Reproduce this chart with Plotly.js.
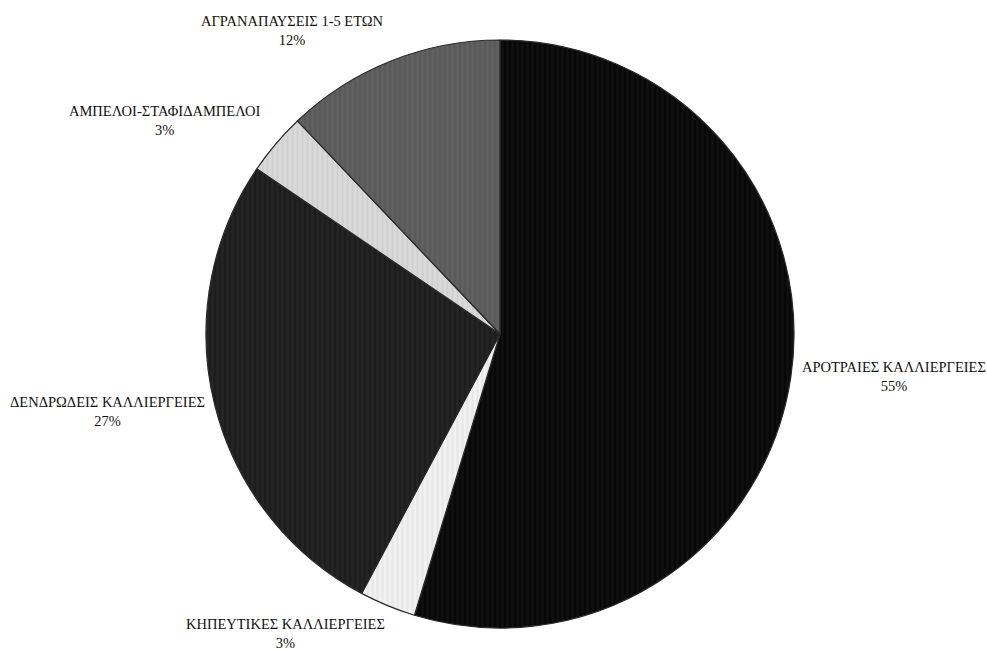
<!DOCTYPE html>
<html>
<head>
<meta charset="utf-8">
<script src="https://cdn.plot.ly/plotly-3.0.1.min.js"></script>
<style>html,body{margin:0;padding:0;background:#fff;}#chart{width:987px;height:650px;}</style>
</head>
<body>
<div id="chart"></div>
<script>
const categories = ["ΑΡΟΤΡΑΙΕΣ ΚΑΛΛΙΕΡΓΕΙΕΣ", "ΚΗΠΕΥΤΙΚΕΣ ΚΑΛΛΙΕΡΓΕΙΕΣ", "ΔΕΝΔΡΩΔΕΙΣ ΚΑΛΛΙΕΡΓΕΙΕΣ", "ΑΜΠΕΛΟΙ-ΣΤΑΦΙΔΑΜΠΕΛΟΙ", "ΑΓΡΑΝΑΠΑΥΣΕΙΣ 1-5 ΕΤΩΝ"];
const shares = [54.7, 3.1, 26.7, 3.4, 12.1];
const sliceColors = ["#080808", "#f2f2f2", "#1d1d1d", "#d9d9d9", "#5a5a5a"];
const stripeColors = ["#1a1a1a", "#dcdcdc", "#2e2e2e", "#c6c6c6", "#6a6a6a"];

// label placement (pixels in the 987x650 frame)
const labelPos = [[894, 376], [285, 633], [107, 411], [165, 120], [292, 30]];

const W = 987, H = 650;
const cx = 500, cy = 334, r = 294;

const trace = {
  type: "pie",
  labels: categories,
  values: shares,
  sort: false,
  direction: "clockwise",
  rotation: 0,
  textinfo: "none",
  hoverinfo: "label+percent",
  showlegend: false,
  domain: {x: [(cx - r) / W, (cx + r) / W], y: [(H - cy - r) / H, (H - cy + r) / H]},
  marker: {
    colors: sliceColors,
    line: {color: "#2a2a2a", width: 1.2},
    pattern: {shape: "|", fgcolor: stripeColors, bgcolor: sliceColors, size: 5, solidity: 0.4, fillmode: "overlay"}
  }
};

const total = shares.reduce((a, b) => a + b, 0);
const annotations = categories.map((c, i) => ({
  x: labelPos[i][0] / W, y: 1 - labelPos[i][1] / H,
  xref: "paper", yref: "paper", xanchor: "center", yanchor: "middle",
  showarrow: false, align: "center",
  text: c + "<br>" + Math.round(shares[i] / total * 100) + "%",
  font: {family: "Liberation Serif, Times New Roman, serif", size: 14.5, color: "#111"}
}));

Plotly.newPlot("chart", [trace], {
  width: W, height: H,
  margin: {l: 0, r: 0, t: 0, b: 0},
  paper_bgcolor: "#fff",
  annotations: annotations
}, {staticPlot: true});
</script>
</body>
</html>
